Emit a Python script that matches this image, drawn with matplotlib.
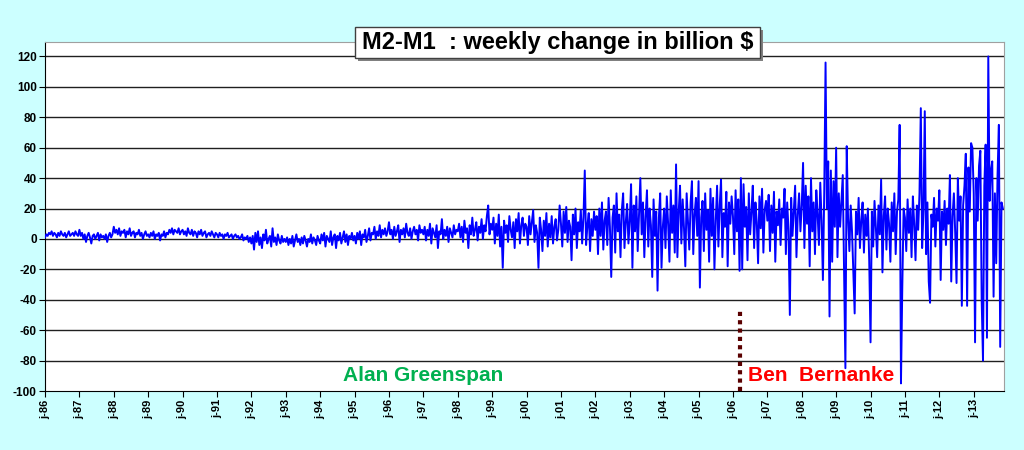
import matplotlib.pyplot as plt
from matplotlib.patches import Rectangle

plt.rcParams['axes.unicode_minus'] = False

# M2-M1 weekly change (billion $), 26 points per year
y1986 = [1, 3, 2, 4, 3, 5, 2, 4, 3, 1, 4, 2, 5, 3, 2, 4, 1, 3, 5, 2, 3, 4, 2, 5, 3, 2]
y1987 = [6, 2, 4, 0, 3, -2, 2, 4, 1, -3, 2, 3, 0, 2, 4, -1, 3, 1, 2, 0, 3, -2, 2, 4, 1, 3]
y1988 = [8, 4, 6, 3, 7, 2, 5, 4, 6, 1, 5, 3, 7, 2, 4, 5, 1, 4, 3, 6, 2, 4, 0, 3, 5, 2]
y1989 = [3, 1, 4, 2, 5, 0, 3, 2, 4, -1, 3, 2, 5, 1, 4, 3, 6, 4, 7, 3, 6, 5, 4, 7, 3, 5]
y1990 = [6, 3, 5, 2, 7, 4, 3, 6, 2, 5, 4, 1, 5, 3, 6, 2, 4, 5, 1, 3, 4, 2, 5, 3, 1, 4]
y1991 = [3, 1, 4, 2, 3, 0, 3, 2, 4, 1, 2, 3, 0, 2, 3, 1, 2, 0, 1, 3, -1, 1, 0, 2, -2, 1]
y1992 = [-3, 2, -7, 4, -2, 5, -4, 1, -6, 3, -1, 6, -3, 0, 2, -5, 7, -2, 1, -4, 3, -1, -3, 2, -2, 0]
y1993 = [-2, 1, -4, 0, -3, 2, -5, -1, 3, -2, 0, -4, 1, -3, 2, -1, -5, 0, -2, 3, -3, 1, -1, -4, 2, -1]
y1994 = [-3, 3, -1, 4, -5, 2, 0, -2, 5, -4, 1, 3, -6, 2, -1, 4, -3, 1, 5, -2, 3, -4, 2, 0, 4, -1]
y1995 = [2, -3, 4, 0, 5, -4, 3, 1, 6, -2, 2, 7, -1, 4, 3, 8, 0, 5, 2, 9, 1, 6, 3, 7, 2, 5]
y1996 = [11, 3, 6, 0, 8, 2, 5, 9, -2, 6, 3, 7, 1, 10, 4, 2, 7, 0, 5, 8, 3, 6, -1, 9, 4, 6]
y1997 = [3, 8, -1, 6, 2, 10, -3, 7, 4, 1, 9, -6, 5, 3, 13, 0, 6, 2, 8, -2, 7, 4, 1, 9, 3, 6]
y1998 = [5, 10, 1, 8, -2, 12, 4, 7, -6, 9, 3, 14, 2, 6, 11, -1, 8, 4, 13, 0, 9, 5, 15, 22, 3, 10]
y1999 = [6, 14, -3, 10, 2, 16, -5, 8, -19, 12, 4, 9, -2, 15, 6, 1, 11, -6, 13, 5, 17, -3, 9, 14, 2, 10]
y2000 = [8, -4, 15, 3, 11, 19, -2, 9, 4, -19, 14, 6, -8, 12, 2, 17, -5, 10, 1, 15, -3, 8, 13, -1, 6, 22]
y2001 = [10, -5, 18, 4, 21, -2, 12, 8, -14, 16, 3, 20, -6, 11, 5, 19, -3, 14, 45, -4, 9, 17, -8, 13, 2, 18]
y2002 = [6, 15, -10, 20, 2, 24, -7, 12, 18, -4, 27, 8, -25, 14, 22, -9, 30, 5, 16, -12, 19, 30, -6, 11, 23, -3]
y2003 = [12, 36, -19, 22, 5, 28, -8, 17, 40, 3, 24, -12, 15, 32, -5, 20, 9, -25, 26, 2, 18, -34, 14, 30, -19, 8]
y2004 = [20, -6, 28, 10, -15, 32, 4, 22, -9, 49, -12, 18, 35, -3, 26, 7, -18, 30, 12, -7, 24, 38, -10, 16, 27, 2]
y2005 = [38, -32, 14, 25, -8, 30, 6, 19, -15, 33, 2, 27, -20, 12, 35, -5, 22, 39, -12, 17, 8, 31, -18, 24, 10, 28]
y2006 = [15, -10, 32, 5, 26, -21, 40, -20, 36, 8, 21, -14, 30, 3, 18, 35, -6, 24, 11, -16, 28, 7, 33, -9, 19, 25]
y2007 = [12, 29, -8, 22, 4, 31, -15, 18, 9, 26, -4, 20, 14, 33, -10, 24, 6, -50, 27, 2, 19, 35, -12, 16, 30, 5]
y2008 = [22, 50, -6, 35, 10, 28, -18, 40, 5, 24, -10, 32, 16, -4, 37, 12, -27, 30, 116, 20, 51, -51, 45, -15, 38, 8]
y2009 = [60, -12, 30, 8, 25, 42, -20, -85, 61, 14, -8, 22, 5, -22, -49, 18, 3, 27, -6, 12, 24, -9, 16, 2, 20, -14]
y2010 = [-68, 18, -5, 25, 8, -12, 22, 3, 39, -22, 15, 28, -7, 20, 10, -15, 24, 5, 30, -10, 18, 26, 75, -95, -32, 20]
y2011 = [14, -8, 26, 4, 20, -12, 28, 10, -14, 22, 6, 30, 86, -6, 18, 84, -10, 24, -28, -42, 16, 8, 27, -5, 20, 12]
y2012 = [32, -27, 18, 6, 25, -4, 20, 10, 42, -28, 15, 30, 4, -29, 40, 12, 28, -44, 22, 35, 56, -44, 47, 18, 63, 60]
y2013 = [30, -68, 40, 12, 48, 58, -40, -80, 35, 62, -65, 120, 25, 45, 51, -38, 30, -16, 42, 75, -71, 24, 20]

annees = list(range(1986, 2014))
par_an = [y1986, y1987, y1988, y1989, y1990, y1991, y1992, y1993, y1994, y1995,
          y1996, y1997, y1998, y1999, y2000, y2001, y2002, y2003, y2004, y2005,
          y2006, y2007, y2008, y2009, y2010, y2011, y2012, y2013]

x = []
y = []
for an, vals in zip(annees, par_an):
    for i, v in enumerate(vals):
        x.append(an + i / 26)
        y.append(v)

fond = '#CCFFFF'
W, H = 1024, 450
fig = plt.figure(figsize=(W / 100, H / 100), dpi=100, facecolor=fond)
ax = fig.add_axes([45 / W, 1 - 391 / H, 959 / W, 349 / H])
ax.set_facecolor('white')

ax.set_ylim(-100, 129.5)
ax.set_xlim(1986, 2013.88)
ax.set_yticks(range(-100, 121, 20))
for g in range(-80, 121, 20):
    ax.axhline(g, color='#202020', lw=1, zorder=1)

ax.plot(x, y, color='#0000FF', lw=1.4, zorder=3)

ax.set_xticks(annees)
ax.set_xticklabels(['j-%02d' % (a % 100) for a in annees], rotation=90,
                   fontsize=8, fontweight='bold', family='Liberation Sans')
for lab in ax.get_yticklabels():
    lab.set_fontsize(8.5)
    lab.set_fontweight('bold')
    lab.set_family('Liberation Sans')
ax.tick_params(axis='both', direction='out', length=4, color='black', pad=2)

ax.spines['left'].set_color('black')
ax.spines['bottom'].set_color('black')
ax.spines['top'].set_color('#A0A0A0')
ax.spines['right'].set_color('#A0A0A0')

# arrivee de Bernanke
ax.plot([2006.2, 2006.2], [-100, -47], color='#5A0000', lw=3, linestyle=(0, (1, 1)), zorder=4)

ax.text(1997.0, -90, 'Alan Greenspan', color='#00B050', fontsize=15, fontweight='bold',
        family='Liberation Sans', ha='center', va='center', zorder=5)
ax.text(2006.45, -90, 'Ben  Bernanke', color='red', fontsize=15, fontweight='bold',
        family='Liberation Sans', ha='left', va='center', zorder=5)

# cadre du titre avec ombre
x0, y0, x1, y1 = 355, 27, 760, 58
fig.patches.append(Rectangle(((x0 + 3) / W, 1 - (y1 + 3) / H), (x1 - x0) / W, (y1 - y0) / H,
                             transform=fig.transFigure, fc='#808080', ec='none', zorder=8))
fig.patches.append(Rectangle((x0 / W, 1 - y1 / H), (x1 - x0) / W, (y1 - y0) / H,
                             transform=fig.transFigure, fc='white', ec='#404040', lw=1, zorder=9))
fig.text((x0 + x1) / 2 / W, 1 - (y0 + y1) / 2 / H, 'M2-M1  : weekly change in billion $',
         fontsize=17, fontweight='bold', family='Liberation Sans',
         ha='center', va='center', color='black', zorder=10)

plt.savefig('out.png', dpi=100, facecolor=fond)
